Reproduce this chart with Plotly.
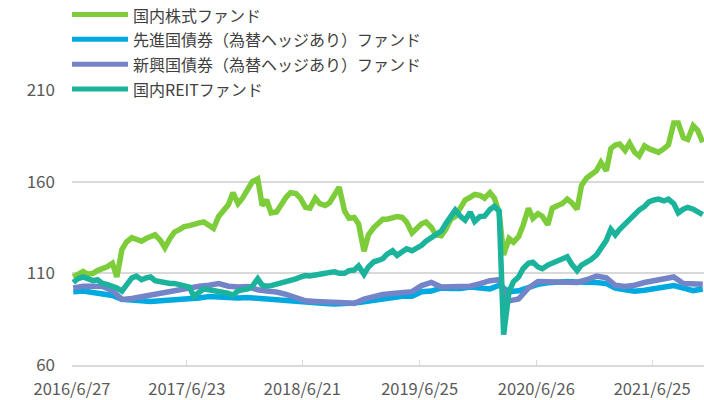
import pandas as pd
import plotly.graph_objects as go

# ---- data ----
series_names = [
    "国内株式ファンド",
    "先進国債券（為替ヘッジあり）ファンド",
    "新興国債券（為替ヘッジあり）ファンド",
    "国内REITファンド",
]
series_colors = ["#7DCD3B", "#00A9E0", "#7484C8", "#1BB39B"]

# semi-monthly observation dates (1st and 15th) for the volatile series
dates_semi = pd.date_range("2016-07-01", periods=131, freq="SMS")
# monthly observation dates for the bond series
dates_month = pd.date_range("2016-07-01", periods=66, freq="MS")

jp_equity = [
    108, 109.5, 111, 109.5, 110, 111.5, 112.5, 113.6, 115.5, 108,
    123, 127, 129.5, 128.5, 127.5, 129, 130, 131, 128, 124,
    129, 132.5, 134, 135.5, 136, 137, 137.5, 138, 136, 134.5,
    141, 144.5, 147.5, 154, 148, 151, 156, 160, 161.5, 147,
    150, 143, 143.5, 147.5, 151.5, 154, 153.5, 151, 146, 145.5,
    151, 148, 147, 148.5, 153, 157, 144, 140, 140.5, 137,
    122, 131, 135, 137, 139.5, 139.5, 140.5, 141, 140.5, 138,
    132, 134.5, 137, 138, 135, 131, 130.5, 134, 139.5, 141,
    146, 150, 151.5, 153, 152.5, 151, 154, 151, 143, 120,
    129, 127, 130, 136, 145.5, 140, 142.5, 141, 136.5, 145.5,
    147, 148, 150.5, 148.5, 145, 158, 162, 163.5, 166, 170.5,
    166, 178, 180, 180.5, 177, 181, 176, 174, 179.5, 178,
    176.5, 176, 178, 180, 192, 192, 184, 183, 190.5, 188,
    181.5,
]

dev_bond = [
    100, 100.3, 99.5, 99, 97.9, 95.8, 95.2, 94.7, 94.7, 95,
    95.2, 96, 96.3, 96.5, 97.3, 96.8, 96.5, 96.5, 96.8, 96.3,
    96, 95.5, 95, 94.7, 94.2, 93.8, 93.6, 93.3, 93.2, 93.8,
    94.5, 95.3, 96, 96.3, 97.5, 97.5, 100, 100.3, 102, 101.7,
    101.7, 102.5, 102, 101.5, 103.5, 100, 100.5, 102.5, 104, 104.8,
    105.5, 105.5, 105.3, 105.5, 105, 104.4, 102, 101, 100.3, 100.8,
    101.5, 102.3, 103.3, 102, 100.6, 101.5,
]

em_bond = [
    102, 103, 103, 102.8, 100.5, 95.8, 96.3, 97.3, 98.5, 99.5,
    100, 100.8, 102, 103, 103.5, 104.4, 103, 102.5, 102.8, 101,
    100.3, 99.8, 98.5, 96.5, 95, 94.7, 94.7, 94.5, 94, 93.6,
    96, 97.3, 98.5, 99, 99.5, 100, 103.3, 105, 102.5, 102.5,
    102.5, 103, 104.4, 106, 106.5, 95, 96, 102, 105.5, 105.5,
    104.8, 105.5, 105, 106.5, 108.5, 107.5, 103.5, 102.8, 103.5, 105,
    106, 107, 108, 104.5, 104.5, 104,
]

jp_reit = [
    105, 107, 108, 107, 106, 106.5, 104.5, 104, 103, 102,
    100.3, 104, 107.5, 108.5, 106.5, 107.5, 108, 106, 105.5, 104.5,
    104.5, 104.5, 104, 103, 102.5, 97.5, 99.5, 101.5, 101, 100.5,
    100, 100, 99, 98, 100.5, 101, 101.5, 103, 107, 103.5,
    103, 103.3, 104, 104.8, 105.5, 106.5, 107, 108, 108.8, 108.5,
    108.8, 109.5, 110, 110.5, 110.8, 110, 110, 111.5, 111.8, 114,
    109.5, 113.5, 116.3, 117, 118, 120.5, 122.3, 119.8, 121.5, 123.4,
    122.3, 123.5, 125.3, 127.5, 129.5, 131.5, 133, 137, 141.5, 144.5,
    141, 139, 143.4, 138.3, 141, 141.2, 144.8, 146.5, 144, 76.5,
    100, 105.5, 108, 112.5, 115.5, 116, 113.5, 112.5, 114.5, 115.5,
    117.3, 118.3, 119, 115, 111.5, 114.5, 116, 117.5, 120, 123.5,
    128, 134, 131, 134, 137, 139.5, 142.5, 144.5, 146.5, 149,
    150, 150.5, 149.5, 150.5, 148, 143, 145, 146, 145, 143.5,
    142,
]

tick_dates = ["2016-06-27", "2017-06-23", "2018-06-21", "2019-06-25", "2020-06-26", "2021-06-25"]
tick_labels = ["2016/6/27", "2017/6/23", "2018/6/21", "2019/6/25", "2020/6/26", "2021/6/25"]
y_ticks = [60, 110, 160, 210]

# ---- figure ----
FONT = "Noto Sans CJK JP, Noto Sans, sans-serif"
fig = go.Figure()
series_x = [dates_semi, dates_month, dates_month, dates_semi]
series_y = [jp_equity, dev_bond, em_bond, jp_reit]
for name, color, xs, ys in zip(series_names, series_colors, series_x, series_y):
    fig.add_trace(go.Scatter(
        x=xs, y=ys, name=name, mode="lines",
        line=dict(color=color, width=5.5),
        showlegend=False,
    ))

# custom legend (long line samples, like the original)
plot_h = 400 - 90 - 33
row_px = [14, 39, 64, 89]
for name, color, ypx in zip(series_names, series_colors, row_px):
    yp = (367 - ypx) / plot_h
    fig.add_shape(type="line", xref="paper", yref="paper",
                  x0=0.0, x1=56 / 632, y0=yp, y1=yp,
                  line=dict(color=color, width=5), layer="above")
    fig.add_annotation(text=name, xref="paper", yref="paper",
                       x=59 / 632, y=yp, xanchor="left", yanchor="middle",
                       showarrow=False,
                       font=dict(family=FONT, size=16, color="#404040"))

fig.update_layout(
    width=704, height=400,
    margin=dict(l=72, r=0, t=90, b=33),
    paper_bgcolor="white", plot_bgcolor="white",
    font=dict(family=FONT, size=17, color="#595959"),
)
fig.update_xaxes(
    type="date",
    range=["2016-06-27", "2021-12-05"],
    tickvals=tick_dates, ticktext=tick_labels,
    showgrid=False, zeroline=False,
    showline=True, linecolor="#D9D9D9", linewidth=1.5,
    ticks="inside", ticklen=5, tickcolor="#D9D9D9",
    ticklabelstandoff=8,
    tickfont=dict(family=FONT, size=16.5, color="#595959"),
)
fig.update_yaxes(
    range=[60, 210], tickvals=y_ticks,
    showgrid=True, gridcolor="#D9D9D9", gridwidth=1.5,
    zeroline=False, showline=False,
    ticks="", ticklabelstandoff=16,
    tickfont=dict(family=FONT, size=17, color="#595959"),
)

fig.write_html("out.html", config={"displayModeBar": False},
               post_script="document.body.style.margin='0';")
